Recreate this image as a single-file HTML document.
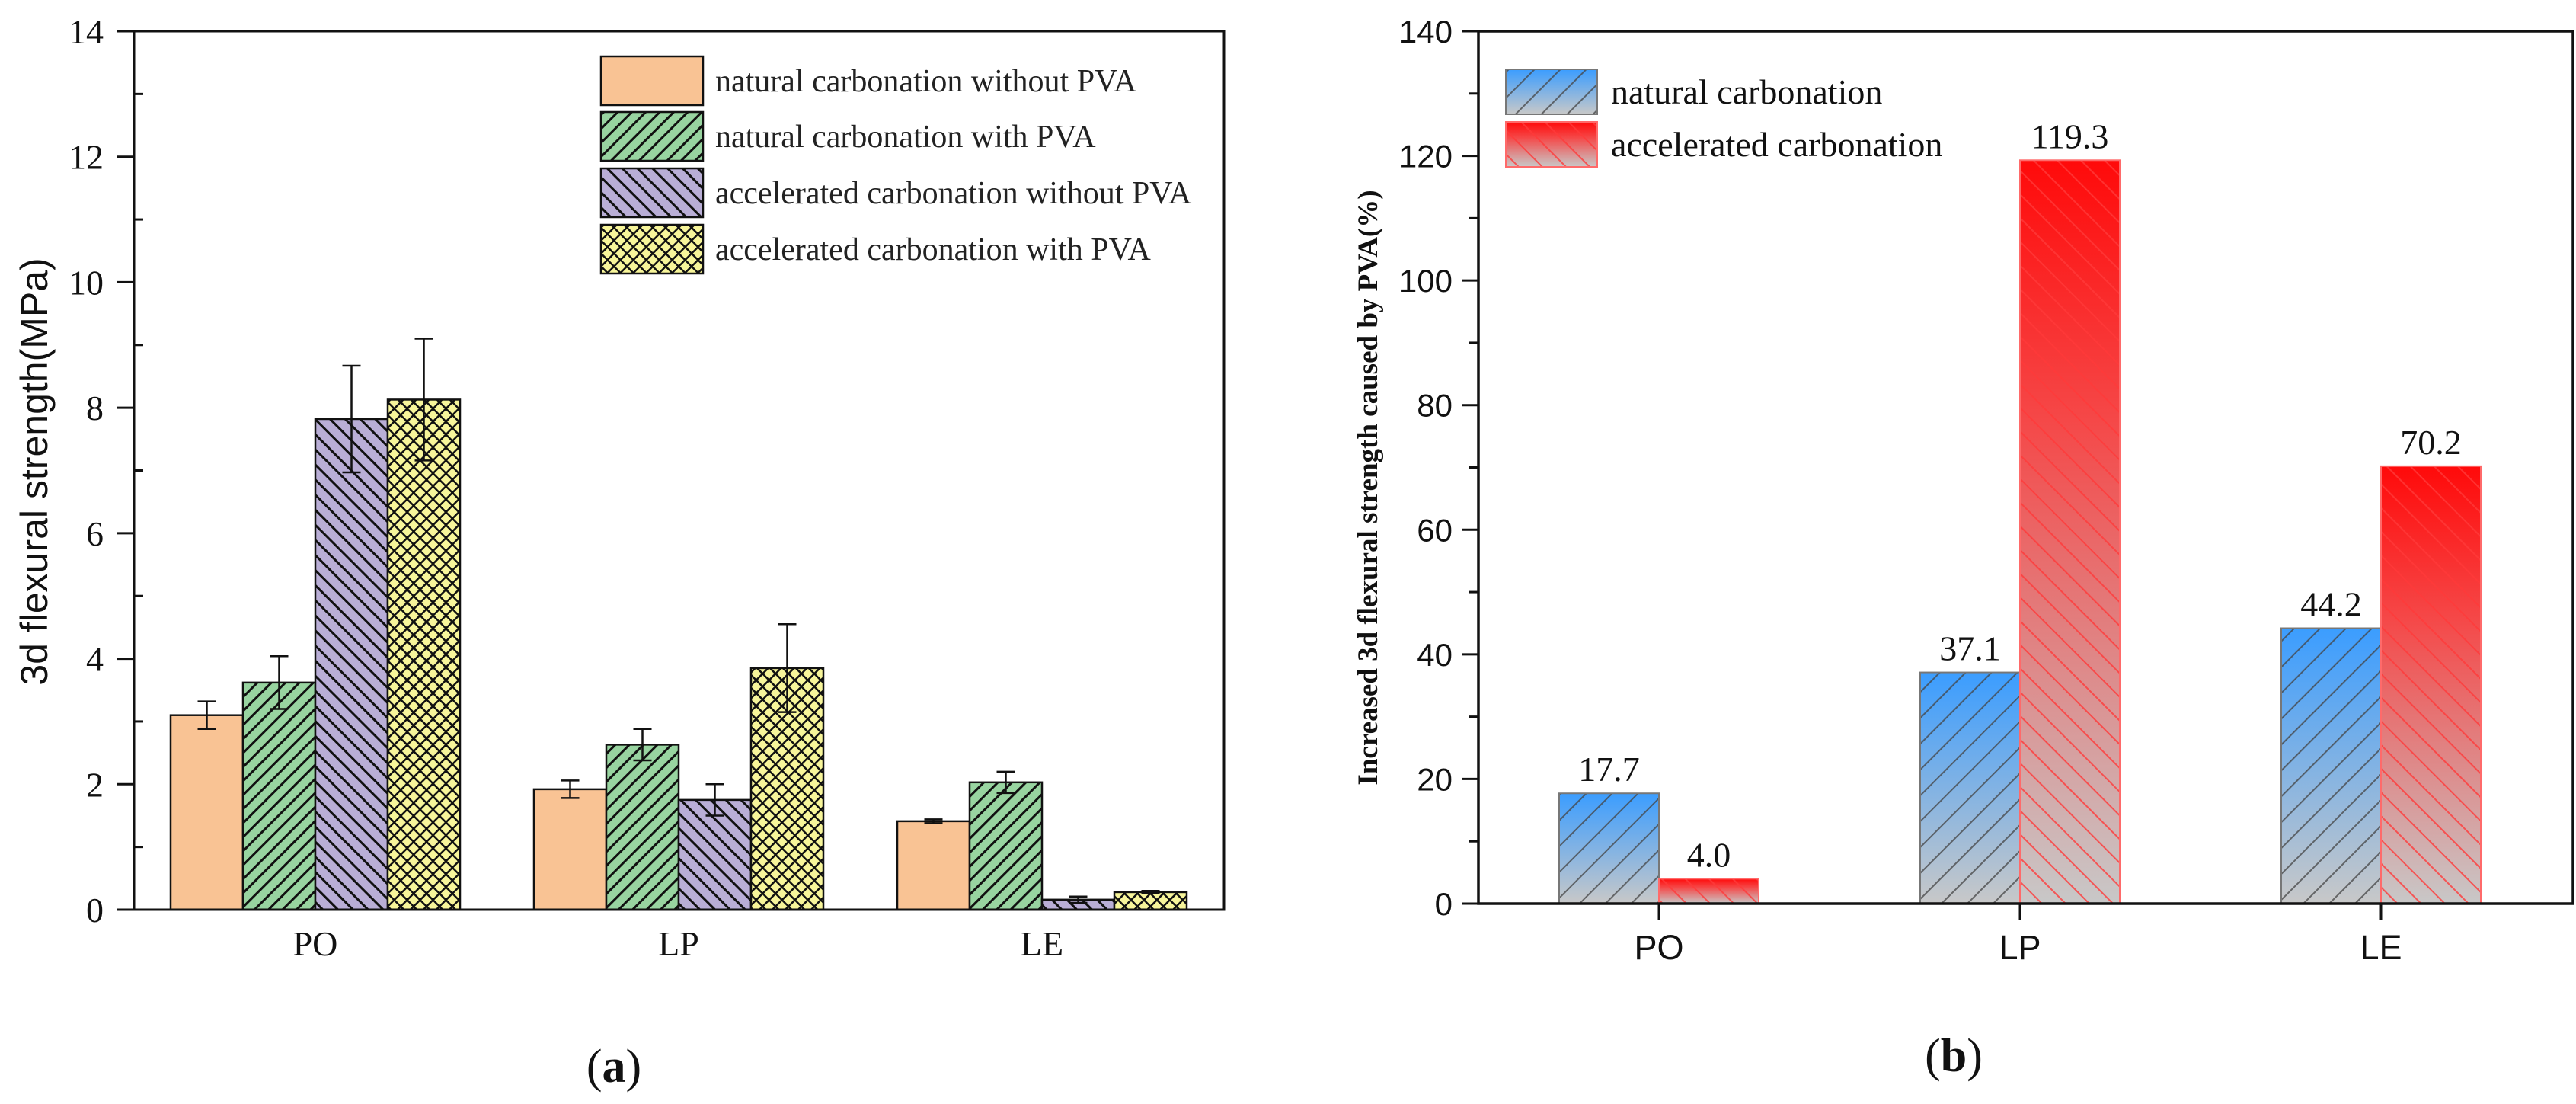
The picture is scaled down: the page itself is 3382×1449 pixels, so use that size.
<!DOCTYPE html>
<html><head><meta charset="utf-8">
<style>
html,body{margin:0;padding:0;background:#fff;}
svg{display:block;}
</style></head>
<body>
<svg id="fig" width="3382" height="1449" viewBox="0 0 3382 1449" xmlns="http://www.w3.org/2000/svg">
<defs>
  <pattern id="hGreen" patternUnits="userSpaceOnUse" width="13" height="13" patternTransform="rotate(45)">
    <rect width="13" height="13" fill="#98d4a0"/><rect x="0" y="0" width="3" height="13" fill="#111"/>
  </pattern>
  <pattern id="hPurple" patternUnits="userSpaceOnUse" width="14" height="14" patternTransform="rotate(-45)">
    <rect width="14" height="14" fill="#b9aed6"/><rect x="0" y="0" width="3" height="14" fill="#111"/>
  </pattern>
  <pattern id="hYellow" patternUnits="userSpaceOnUse" width="12" height="12" patternTransform="rotate(45)">
    <rect width="12" height="12" fill="#f7f59a"/><rect x="0" y="0" width="2.5" height="12" fill="#111"/><rect x="0" y="0" width="12" height="2.5" fill="#111"/>
  </pattern>
  <linearGradient id="gBlue" x1="0" y1="0" x2="0" y2="1">
    <stop offset="0" stop-color="#3b9dff"/><stop offset="1" stop-color="#c8c8c8"/>
  </linearGradient>
  <linearGradient id="gRed" x1="0" y1="0" x2="0" y2="1">
    <stop offset="0" stop-color="#ff0a0a"/><stop offset="0.35" stop-color="#f54848"/><stop offset="1" stop-color="#c8c8c8"/>
  </linearGradient>
  <pattern id="hGray" patternUnits="userSpaceOnUse" width="24" height="24" patternTransform="rotate(45)">
    <rect x="0" y="0" width="2" height="24" fill="#444" fill-opacity="0.75"/>
  </pattern>
  <pattern id="hRed" patternUnits="userSpaceOnUse" width="22" height="22" patternTransform="rotate(-45)">
    <rect x="0" y="0" width="2" height="22" fill="#ff3a3a" fill-opacity="0.8"/>
  </pattern>
</defs>
<g id="chartA"></g>
<g id="chartB"></g>
</svg>
<script>
// ---- Chart (a) data ----
const catsA = ["PO", "LP", "LE"];
const natNoPVA = [3.10, 1.92, 1.41];
const natPVA = [3.62, 2.63, 2.03];
const accNoPVA = [7.82, 1.75, 0.16];
const accPVA = [8.13, 3.85, 0.28];
const errNatNoPVA = [0.22, 0.14, 0.03];
const errNatPVA = [0.42, 0.25, 0.17];
const errAccNoPVA = [0.85, 0.25, 0.05];
const errAccPVA = [0.97, 0.70, 0.02];
const ticksA = [0, 2, 4, 6, 8, 10, 12, 14];
const seriesNamesA = ["natural carbonation without PVA", "natural carbonation with PVA", "accelerated carbonation without PVA", "accelerated carbonation with PVA"];

// ---- Chart (b) data ----
const catsB = ["PO", "LP", "LE"];
const natIncrease = [17.7, 37.1, 44.2];
const accIncrease = [4.0, 119.3, 70.2];
const natLabels = ["17.7", "37.1", "44.2"];
const accLabels = ["4.0", "119.3", "70.2"];
const ticksB = [0, 20, 40, 60, 80, 100, 120, 140];
const seriesNamesB = ["natural carbonation", "accelerated carbonation"];

const NS = "http://www.w3.org/2000/svg";
const SERIF = '"Liberation Serif", serif';
const SANS = '"Liberation Sans", sans-serif';
function mk(parent, tag, attrs, text) {
  const e = document.createElementNS(NS, tag);
  for (const k in attrs) e.setAttribute(k, attrs[k]);
  if (text !== undefined) e.textContent = text;
  parent.appendChild(e);
  return e;
}

// ===== Chart A =====
(function(){
  const g = document.getElementById("chartA");
  const L = 176, R = 1607, T = 41, B = 1194;
  const yMax = 14;
  const y = v => B - (v / yMax) * (B - T);
  const centers = [414, 891, 1368];
  const bw = 95;
  const x = (ci, si) => centers[ci] - 2 * bw + si * bw;
  const fills = ["#f9c394", "url(#hGreen)", "url(#hPurple)", "url(#hYellow)"];
  const vals = [natNoPVA, natPVA, accNoPVA, accPVA];
  const errs = [errNatNoPVA, errNatPVA, errAccNoPVA, errAccPVA];
  const keys = ["nat-no-pva", "nat-pva", "acc-no-pva", "acc-pva"];
  for (let s = 0; s < 4; s++) {
    for (let c = 0; c < catsA.length; c++) {
      const v = vals[s][c];
      const r = mk(g, "rect", {x: x(c, s), y: y(v), width: bw, height: B - y(v), fill: fills[s], stroke: "#111", "stroke-width": 2.5});
      
      
      const cx = x(c, s) + bw / 2, e = errs[s][c];
      const eb = mk(g, "path", {d: `M${cx},${y(v+e)}V${y(v-e)}M${cx-12},${y(v+e)}H${cx+12}M${cx-12},${y(v-e)}H${cx+12}`, stroke: "#111", "stroke-width": 2.5, fill: "none"});
      
      
    }
  }
  const ax = mk(g, "path", {d: `M${L},${T}H${R}V${B}H${L}Z`, stroke: "#111", "stroke-width": 3, fill: "none"});
  
  
  ticksA.forEach(t => {
    mk(g, "line", {x1: L - 23, x2: L, y1: y(t), y2: y(t), stroke: "#111", "stroke-width": 3});
    const tl = mk(g, "text", {x: L - 40, y: y(t) + 16, "text-anchor": "end", "font-size": 46, "font-family": SERIF, fill: "#111"}, String(t));
    
    
    if (t < yMax) mk(g, "line", {x1: L, x2: L + 12, y1: y(t + 1), y2: y(t + 1), stroke: "#111", "stroke-width": 3});
  });
  catsA.forEach((c, i) => {
    const t = mk(g, "text", {x: centers[i], y: 1254, "text-anchor": "middle", "font-size": 46, "font-family": SERIF, fill: "#111"}, c);
    
    
  });
  const yt = mk(g, "text", {x: 0, y: 0, transform: "translate(62,619) rotate(-90)", "text-anchor": "middle", "font-size": 50, "font-family": SANS, fill: "#111"}, "3d flexural strength(MPa)");
  
  
  const rows = [74, 147, 221, 295];
  for (let s = 0; s < 4; s++) {
    const lg = mk(g, "g", {});
    
    
    mk(lg, "rect", {x: 789, y: rows[s], width: 134, height: 64, fill: fills[s], stroke: "#111", "stroke-width": 2.5});
    mk(lg, "text", {x: 939, y: rows[s] + 46, "font-size": 42, "font-family": SERIF, fill: "#222"}, seriesNamesA[s]);
  }
  const cap = mk(g, "text", {x: 806, y: 1420, "text-anchor": "middle", "font-size": 62, "font-family": SERIF, fill: "#111"}, "");
  
  
  mk(cap, "tspan", {}, "(");
  mk(cap, "tspan", {"font-weight": "bold"}, "a");
  mk(cap, "tspan", {}, ")");
})();

// ===== Chart B =====
(function(){
  const g = document.getElementById("chartB");
  const L = 1941, R = 3378, T = 41, B = 1186;
  const yMax = 140;
  const y = v => B - (v / yMax) * (B - T);
  const centers = [2178, 2652, 3126];
  const bw = 131;
  const series = [natIncrease, accIncrease];
  const labels = [natLabels, accLabels];
  const grads = ["url(#gBlue)", "url(#gRed)"];
  const hatches = ["url(#hGray)", "url(#hRed)"];
  const strokes = ["#777", "#ff6a6a"];
  const keys = ["natural", "accelerated"];
  for (let s = 0; s < 2; s++) {
    for (let c = 0; c < catsB.length; c++) {
      const v = series[s][c];
      const bx = centers[c] - bw + s * bw;
      const bg = mk(g, "g", {});
      
      
      mk(bg, "rect", {x: bx, y: y(v), width: bw, height: B - y(v), fill: grads[s]});
      mk(bg, "rect", {x: bx, y: y(v), width: bw, height: B - y(v), fill: hatches[s], stroke: strokes[s], "stroke-width": 2});
      const vl = mk(g, "text", {x: bx + bw / 2, y: y(v) - 16, "text-anchor": "middle", "font-size": 46, "font-family": SERIF, fill: "#111"}, labels[s][c]);
      
      
    }
  }
  const ax = mk(g, "path", {d: `M${L},${T}H${R}V${B}H${L}Z`, stroke: "#111", "stroke-width": 3.5, fill: "none"});
  
  
  ticksB.forEach(t => {
    mk(g, "line", {x1: L - 21, x2: L, y1: y(t), y2: y(t), stroke: "#111", "stroke-width": 3});
    const tl = mk(g, "text", {x: L - 34, y: y(t) + 15, "text-anchor": "end", "font-size": 42, "font-family": SANS, fill: "#111"}, String(t));
    
    
    if (t < yMax) mk(g, "line", {x1: L - 12, x2: L, y1: y(t + 10), y2: y(t + 10), stroke: "#111", "stroke-width": 3});
  });
  catsB.forEach((c, i) => {
    mk(g, "line", {x1: centers[i], x2: centers[i], y1: B, y2: B + 22, stroke: "#111", "stroke-width": 3});
    const t = mk(g, "text", {x: centers[i], y: 1259, "text-anchor": "middle", "font-size": 45, "font-family": SANS, fill: "#111"}, c);
    
    
  });
  const yt = mk(g, "text", {x: 0, y: 0, transform: "translate(1808,640) rotate(-90)", "text-anchor": "middle", "font-size": 37, "font-weight": "bold", "font-family": SERIF, fill: "#111", "xml:space": "preserve"}, "Increased  3d flexural strength caused by PVA(%)");
  
  
  const rows = [91, 160];
  for (let s = 0; s < 2; s++) {
    const lg = mk(g, "g", {});
    
    
    mk(lg, "rect", {x: 1977, y: rows[s], width: 120, height: 59, fill: grads[s]});
    mk(lg, "rect", {x: 1977, y: rows[s], width: 120, height: 59, fill: hatches[s], stroke: strokes[s], "stroke-width": 2});
    mk(lg, "text", {x: 2115, y: rows[s] + 45, "font-size": 46, "font-family": SERIF, fill: "#111"}, seriesNamesB[s]);
  }
  const cap = mk(g, "text", {x: 2565, y: 1406, "text-anchor": "middle", "font-size": 62, "font-family": SERIF, fill: "#111"}, "");
  
  
  mk(cap, "tspan", {}, "(");
  mk(cap, "tspan", {"font-weight": "bold"}, "b");
  mk(cap, "tspan", {}, ")");
})();
</script>
</body></html>
